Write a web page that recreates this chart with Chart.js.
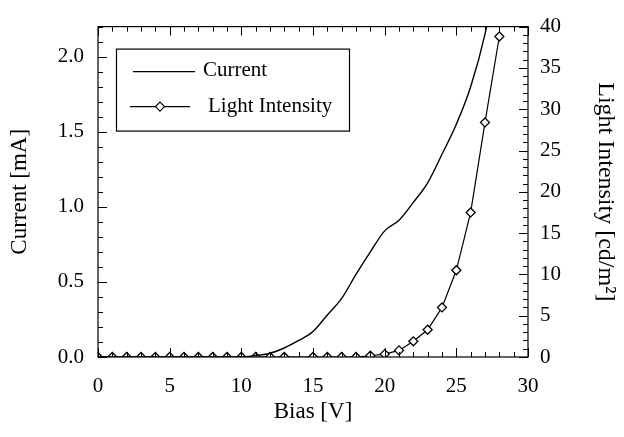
<!DOCTYPE html>
<html><head><meta charset="utf-8">
<script src="https://cdn.jsdelivr.net/npm/chart.js@4"></script>
<style>html,body{margin:0;padding:0;background:#fff}</style>
</head><body>
<canvas id="c" width="624" height="437"></canvas>
<script>
const currentBias   = [0,1,2,3,4,5,6,7,8,9,10,11,12,13,14,15,16,17,18,19,20,21,22,23,24,25,26,27,28];
const currentValues = [0,0,0,0,0,0,0,0,0,0,0,0.01,0.025,0.06,0.11,0.17,0.28,0.39,0.55,0.70,0.84,0.91,1.03,1.16,1.35,1.55,1.80,2.15,2.65];
const lightBias     = [0,1,2,3,4,5,6,7,8,9,10,11,12,13,15,16,17,18,19,20,21,22,23,24,25,26,27,28];
const lightValues   = [0,0,0,0,0,0,0,0,0,0,0,0,0,0,0,0,0,0,0.15,0.35,0.8,1.9,3.3,6.0,10.5,17.5,28.4,38.8];
const xTickValues     = [0,5,10,15,20,25,30];
const leftTickValues  = [0,0.5,1.0,1.5,2.0];
const rightTickValues = [0,5,10,15,20,25,30,35,40];
const seriesNames = ['Current','Light Intensity'];

const FONT = '"Liberation Serif", "DejaVu Serif", serif';

const framePlugin = {
  id: 'frame',
  afterDatasetsDraw(chart) {
    const ctx = chart.ctx, a = chart.chartArea;
    const sx = chart.scales.x, sy = chart.scales.y, sy1 = chart.scales.y1;
    ctx.save();
    ctx.strokeStyle = '#000';
    ctx.lineWidth = 1.2;
    ctx.strokeRect(a.left, a.top, a.right - a.left, a.bottom - a.top);
    ctx.lineWidth = 1;
    ctx.beginPath();
    for (let v = sx.min; v <= sx.max + 1e-9; v += 1) {
      const p = Math.round(sx.getPixelForValue(v)) + 0.5;
      const len = (Math.abs(v % 5) < 1e-9) ? 9 : 5;
      ctx.moveTo(p, a.bottom); ctx.lineTo(p, a.bottom - len);
      ctx.moveTo(p, a.top); ctx.lineTo(p, a.top + len);
    }
    for (let i = 0; i <= 22; i++) {
      const v = i / 10;
      const p = Math.round(sy.getPixelForValue(v)) + 0.5;
      const len = (i % 5 === 0) ? 9 : 5;
      ctx.moveTo(a.left, p); ctx.lineTo(a.left + len, p);
    }
    for (let v = 0; v <= 40; v += 1) {
      const p = Math.round(sy1.getPixelForValue(v)) + 0.5;
      const len = (v % 5 === 0) ? 9 : 5;
      ctx.moveTo(a.right, p); ctx.lineTo(a.right - len, p);
    }
    ctx.stroke();

    const bx = a.left + 18, by = a.top + 22, bw = 233, bh = 82;
    ctx.fillStyle = '#fff';
    ctx.fillRect(bx, by, bw, bh);
    ctx.lineWidth = 1.2;
    ctx.strokeRect(bx + 0.5, by + 0.5, bw, bh);
    ctx.beginPath();
    ctx.moveTo(bx + 17, by + 23); ctx.lineTo(bx + 79, by + 23);
    ctx.moveTo(bx + 14, by + 58); ctx.lineTo(bx + 74, by + 58);
    ctx.stroke();
    const dx = bx + 44, dy = by + 58, r = 4.5;
    ctx.beginPath();
    ctx.moveTo(dx, dy - r); ctx.lineTo(dx + r, dy); ctx.lineTo(dx, dy + r); ctx.lineTo(dx - r, dy); ctx.closePath();
    ctx.fillStyle = '#fff'; ctx.fill(); ctx.stroke();
    ctx.fillStyle = '#000';
    ctx.font = '21px ' + FONT;
    ctx.textBaseline = 'middle';
    ctx.textAlign = 'left';
    ctx.fillText(seriesNames[0], bx + 87, by + 22);
    ctx.fillText(seriesNames[1], bx + 92, by + 58);
    ctx.restore();
  }
};

new Chart(document.getElementById('c'), {
  type: 'line',
  data: {
    datasets: [
      {
        label: seriesNames[0],
        data: currentBias.map((x, i) => ({x, y: currentValues[i]})),
        yAxisID: 'y',
        borderColor: '#000',
        borderWidth: 1.4,
        pointRadius: 0,
        cubicInterpolationMode: 'monotone',
        fill: false
      },
      {
        label: seriesNames[1],
        data: lightBias.map((x, i) => ({x, y: lightValues[i]})),
        yAxisID: 'y1',
        borderColor: '#000',
        borderWidth: 1.2,
        pointStyle: 'rectRot',
        pointRadius: 4.5,
        pointBackgroundColor: '#fff',
        pointBorderColor: '#000',
        pointBorderWidth: 1.3,
        fill: false
      }
    ]
  },
  options: {
    responsive: false,
    animation: false,
    layout: { padding: { top: 20, left: 0, right: 0, bottom: 0 } },
    plugins: { legend: { display: false }, tooltip: { enabled: false } },
    scales: {
      x: {
        type: 'linear', min: 0, max: 30,
        grid: { display: false, drawTicks: false },
        border: { display: false },
        afterBuildTicks(s) { s.ticks = xTickValues.map(v => ({value: v})); },
        afterFit(s) { s.height = 80; },
        ticks: { color: '#000', font: { family: FONT, size: 21 }, padding: 17, maxRotation: 0, callback: v => String(v) },
        title: { display: true, text: 'Bias [V]', color: '#000', font: { family: FONT, size: 23 }, padding: { top: 0, bottom: 11 } }
      },
      y: {
        type: 'linear', position: 'left', min: 0, max: 2.2,
        grid: { display: false, drawTicks: false },
        border: { display: false },
        afterBuildTicks(s) { s.ticks = leftTickValues.map(v => ({value: v})); },
        afterFit(s) { s.width = 98; },
        ticks: { color: '#000', font: { family: FONT, size: 21 }, padding: 14, callback: v => Number(v).toFixed(1) },
        title: { display: true, text: 'Current [mA]', color: '#000', font: { family: FONT, size: 23 }, padding: { top: 6, bottom: 0 } }
      },
      y1: {
        type: 'linear', position: 'right', min: 0, max: 40,
        grid: { display: false, drawTicks: false },
        border: { display: false },
        afterBuildTicks(s) { s.ticks = rightTickValues.map(v => ({value: v})); },
        afterFit(s) { s.width = 96; },
        ticks: { color: '#000', font: { family: FONT, size: 21 }, padding: 12, callback: v => String(v) },
        title: { display: true, text: 'Light Intensity [cd/m²]', color: '#000', font: { family: FONT, size: 24 }, padding: { top: 4, bottom: 0 } }
      }
    }
  },
  plugins: [framePlugin]
});
</script>
</body></html>
